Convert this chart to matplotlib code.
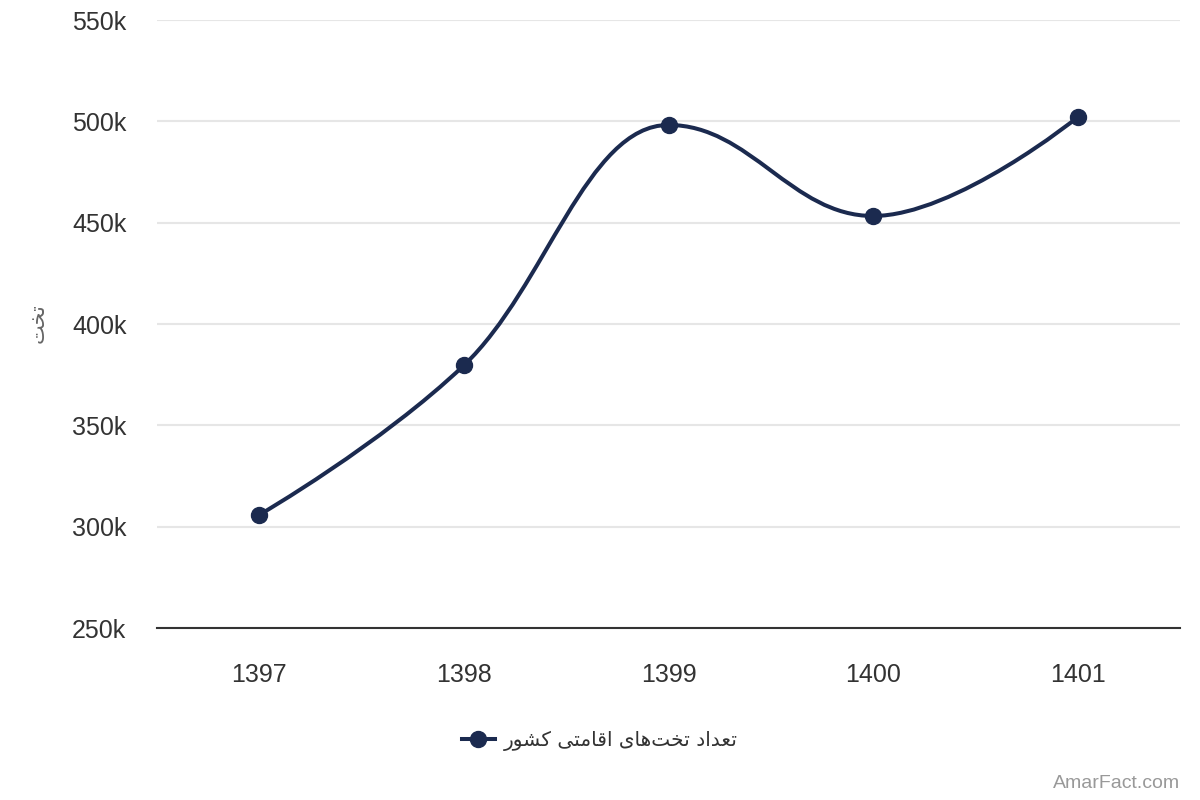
import numpy as np
import matplotlib
matplotlib.use("Agg")
import matplotlib.pyplot as plt
from matplotlib.path import Path
from matplotlib.patches import PathPatch
from matplotlib.lines import Line2D
from matplotlib.ticker import FuncFormatter

years = ["1397", "1398", "1399", "1400", "1401"]
beds = [305800, 379600, 498200, 453300, 502000]
y_ticks = [250000, 300000, 350000, 400000, 450000, 500000, 550000]
series_name = "تعداد تخت‌های اقامتی کشور"
y_title = "تخت"
credit = "AmarFact.com"

NAVY = "#1b2a4f"
TEXT = "#333333"

# matplotlib has no arabic shaping, so pick presentation forms by hand
# letter: (isolated, final, initial, medial) ; 2-tuples join only to the right
FORMS = {
    "ت": (0xFE95, 0xFE96, 0xFE97, 0xFE98),
    "ع": (0xFEC9, 0xFECA, 0xFECB, 0xFECC),
    "د": (0xFEA9, 0xFEAA),
    "ا": (0xFE8D, 0xFE8E),
    "خ": (0xFEA5, 0xFEA6, 0xFEA7, 0xFEA8),
    "ه": (0xFEE9, 0xFEEA, 0xFEEB, 0xFEEC),
    "ی": (0xFBFC, 0xFBFD, 0xFBFE, 0xFBFF),
    "ق": (0xFED5, 0xFED6, 0xFED7, 0xFED8),
    "م": (0xFEE1, 0xFEE2, 0xFEE3, 0xFEE4),
    "ک": (0xFB8E, 0xFB8F, 0xFB90, 0xFB91),
    "ش": (0xFEB5, 0xFEB6, 0xFEB7, 0xFEB8),
    "و": (0xFEED, 0xFEEE),
    "ر": (0xFEAD, 0xFEAE),
}


def shape_rtl(text):
    out = []
    for i, ch in enumerate(text):
        if ch not in FORMS:
            if ch != "\u200c":
                out.append(ch)
            continue
        prev = text[i - 1] if i > 0 else ""
        nxt = text[i + 1] if i + 1 < len(text) else ""
        joins_prev = prev in FORMS and len(FORMS[prev]) == 4
        joins_next = len(FORMS[ch]) == 4 and nxt in FORMS
        f = FORMS[ch]
        if joins_prev and joins_next:
            code = f[3]
        elif joins_prev:
            code = f[1]
        elif joins_next:
            code = f[2]
        else:
            code = f[0]
        out.append(chr(code))
    return "".join(out)[::-1]


def spline_path(xs, ys, smoothing=1.5):
    # same control point rule as highcharts 'spline' series
    n = len(xs)
    denom = smoothing + 1
    left = [None] * n
    right = [None] * n
    for i in range(1, n - 1):
        px, py = xs[i], ys[i]
        lx, ly = xs[i - 1], ys[i - 1]
        nx, ny = xs[i + 1], ys[i + 1]
        lcx = (smoothing * px + lx) / denom
        lcy = (smoothing * py + ly) / denom
        rcx = (smoothing * px + nx) / denom
        rcy = (smoothing * py + ny) / denom
        corr = 0
        if rcx != lcx:
            corr = (rcy - lcy) * (rcx - px) / (rcx - lcx) + py - rcy
        lcy += corr
        rcy += corr
        if lcy > ly and lcy > py:
            lcy = max(ly, py)
            rcy = 2 * py - lcy
        elif lcy < ly and lcy < py:
            lcy = min(ly, py)
            rcy = 2 * py - lcy
        if rcy > ny and rcy > py:
            rcy = max(ny, py)
            lcy = 2 * py - rcy
        elif rcy < ny and rcy < py:
            rcy = min(ny, py)
            lcy = 2 * py - rcy
        left[i] = (lcx, lcy)
        right[i] = (rcx, rcy)
    verts = [(xs[0], ys[0])]
    codes = [Path.MOVETO]
    for i in range(1, n):
        c1 = right[i - 1] or (xs[i - 1], ys[i - 1])
        c2 = left[i] or (xs[i], ys[i])
        verts += [c1, c2, (xs[i], ys[i])]
        codes += [Path.CURVE4] * 3
    return Path(verts, codes)


plt.rcParams["font.family"] = ["Liberation Sans", "DejaVu Sans"]

fig = plt.figure(figsize=(12, 8), dpi=100)
ax = fig.add_axes([157 / 1200, 1 - 628 / 800, 1023 / 1200, 608 / 800])

x = np.arange(len(years))
ax.add_patch(PathPatch(spline_path(list(x), beds), facecolor="none",
                       edgecolor=NAVY, lw=2.9, capstyle="round", zorder=3))
ax.plot(x, beds, "o", color=NAVY, markersize=11.5, zorder=4)

ax.set_xlim(-0.5, len(years) - 0.5)
ax.set_ylim(y_ticks[0], y_ticks[-1])
ax.set_xticks(x)
ax.set_xticklabels(years)
ax.set_yticks(y_ticks)
ax.yaxis.set_major_formatter(FuncFormatter(lambda v, p: "{0:.0f}k".format(v / 1000)))
ax.grid(axis="y", color="#e6e6e6", lw=1.5)
ax.set_axisbelow(True)
for s in ["top", "right", "left"]:
    ax.spines[s].set_visible(False)
ax.spines["bottom"].set_color(TEXT)
ax.spines["bottom"].set_linewidth(1.5)
ax.spines["bottom"].set_zorder(5)
ax.tick_params(axis="both", length=0, labelsize=18, labelcolor=TEXT)
ax.tick_params(axis="y", pad=22)
ax.tick_params(axis="x", pad=25)

fig.text(38 / 1200, 1 - 323 / 800, shape_rtl(y_title), rotation=90,
         ha="center", va="center", fontsize=15, color="#666666",
         family=["DejaVu Sans"])

handle = Line2D([], [], color=NAVY, lw=2.9, marker="o", markersize=11.5)
fig.legend([handle], [shape_rtl(series_name)], loc="center",
           bbox_to_anchor=(0.5, 1 - 741 / 800), frameon=False,
           prop={"family": "DejaVu Sans", "size": 14.5}, labelcolor=TEXT,
           handlelength=1.6, handletextpad=0.45)

fig.text(1180 / 1200, 1 - 784 / 800, credit, ha="right", va="center",
         fontsize=14, color="#999999")

fig.savefig("out.png", dpi=100)
